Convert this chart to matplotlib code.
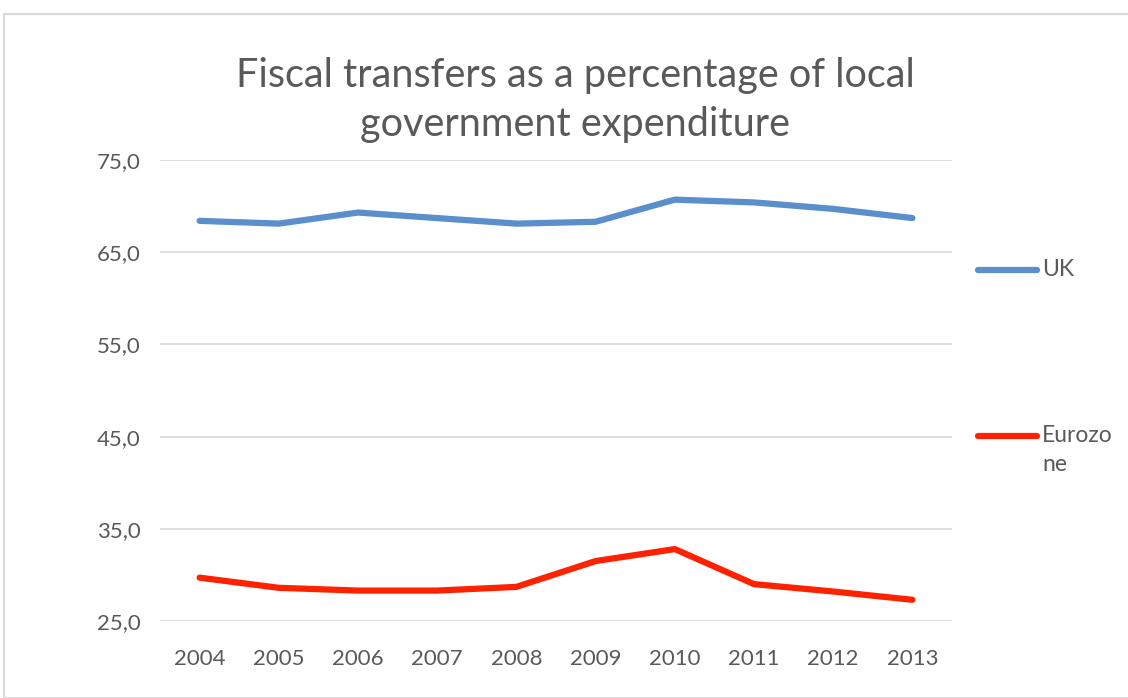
import matplotlib.pyplot as plt
from matplotlib.patches import Rectangle

years = ["2004", "2005", "2006", "2007", "2008", "2009", "2010", "2011", "2012", "2013"]
uk = [68.4, 68.1, 69.3, 68.7, 68.1, 68.3, 70.7, 70.4, 69.7, 68.7]
eurozone = [29.7, 28.6, 28.3, 28.3, 28.7, 31.5, 32.8, 29.0, 28.2, 27.3]
yticks = [25, 35, 45, 55, 65, 75]

plt.rcParams['font.family'] = ['Lato', 'DejaVu Sans']
grey = '#595959'

fig = plt.figure(figsize=(11.28, 6.98), dpi=100)
# chart frame
fig.patches.append(Rectangle((4 / 1128, 0), 1.2, (698 - 14) / 698, transform=fig.transFigure,
                             fill=False, edgecolor='#d9d9d9', linewidth=1.5))

ax = fig.add_axes([160 / 1128, 1 - 621 / 698, 792 / 1128, (621 - 160) / 698])
x = range(len(years))
ax.plot(x, uk, color='#5b8fcb', lw=4.5, solid_capstyle='round', solid_joinstyle='round')
ax.plot(x, eurozone, color='#ff2200', lw=4.5, solid_capstyle='round', solid_joinstyle='round')

ax.set_xlim(-0.5, len(years) - 0.5)
ax.set_ylim(25, 75)
ax.set_yticks(yticks)
ax.set_yticklabels([f"{v:.1f}".replace('.', ',') for v in yticks])
ax.set_xticks(list(x))
ax.set_xticklabels(years)
ax.tick_params(length=0, labelsize=16, colors=grey)
ax.tick_params(axis='x', pad=20)
ax.tick_params(axis='y', pad=14)
ax.yaxis.grid(True, color='#d9d9d9', lw=1.2)
ax.set_axisbelow(True)
for s in ax.spines.values():
    s.set_visible(False)

fig.text(575 / 1128, 1 - 100 / 698, "Fiscal transfers as a percentage of local\ngovernment expenditure",
         ha='center', va='center', fontsize=28.5, color=grey, linespacing=1.4)

# legend drawn by hand at the right
for y_px, color, label in [(270, '#5b8fcb', 'UK'), (436, '#ff2200', 'Eurozo\nne')]:
    yf = 1 - y_px / 698
    fig.add_artist(plt.Line2D([978 / 1128, 1037 / 1128], [yf, yf], color=color, lw=4.5,
                              solid_capstyle='round', transform=fig.transFigure))
    fig.text(1042 / 1128, yf + 11 / 698, label, ha='left', va='top', fontsize=16.5,
             color=grey, linespacing=1.5)

fig.savefig('out.png', dpi=100)
